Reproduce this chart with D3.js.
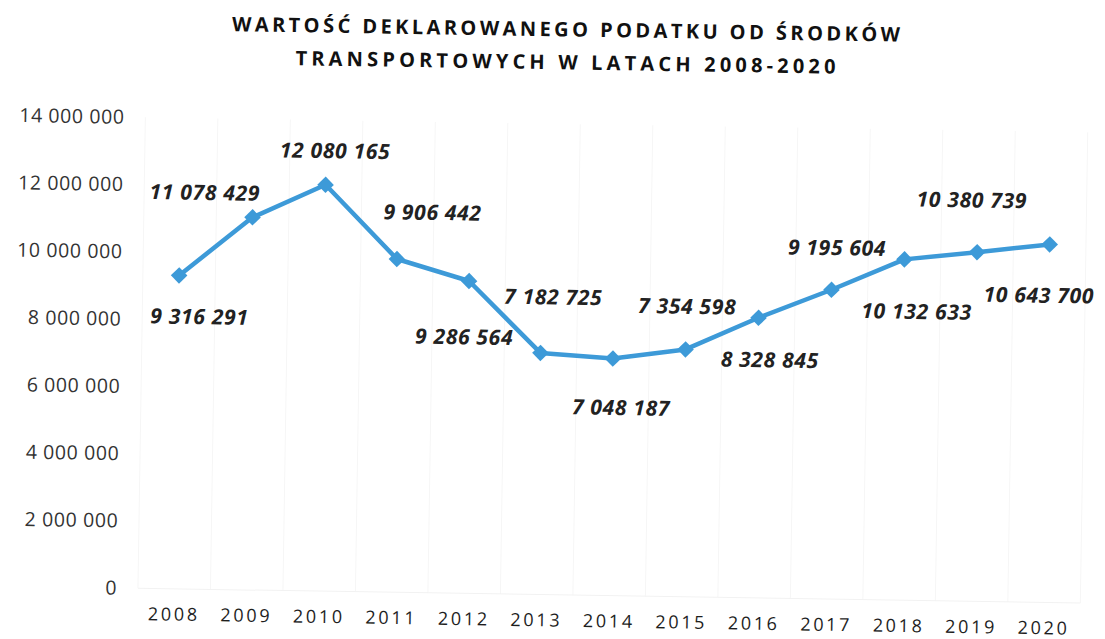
<!DOCTYPE html>
<html><head><meta charset="utf-8">
<script src="https://cdn.jsdelivr.net/npm/d3@7"></script>
<style>body{margin:0;background:#fff}</style>
</head><body>
<svg id="c" width="1105" height="639"></svg>
<script>
const titleLines = ["WARTOŚĆ DEKLAROWANEGO PODATKU OD ŚRODKÓW", "TRANSPORTOWYCH W LATACH 2008-2020"];
const years = ["2008","2009","2010","2011","2012","2013","2014","2015","2016","2017","2018","2019","2020"];
const values = [9316291, 11078429, 12080165, 9906442, 9286564, 7182725, 7048187, 7354598, 8328845, 9195604, 10132633, 10380739, 10643700];
const yTicks = [0, 2000000, 4000000, 6000000, 8000000, 10000000, 12000000, 14000000];
// manual label placement (dx, dy) relative to each point
const labelOffsets = [[21,41],[-48,-24],[9,-34],[35,-47],[-4,56],[12,-56],[9,49],[1,-43],[12,42],[5,-42],[13,52],[-6,-52],[-10,51]];

const loc = d3.formatLocale({decimal: ",", thousands: " ", grouping: [3], currency: ["", ""]});
const fmt = loc.format(",d");

const svg = d3.select("#c");
svg.append("rect").attr("width", 1105).attr("height", 639).attr("fill", "#fff");
const g = svg.append("g").attr("transform", "rotate(0.9,600,350)");

const x = d3.scaleBand().domain(years).range([141.75, 1084.25]).paddingInner(0).paddingOuter(0);
const cx = d => x(d) + x.bandwidth() / 2;
const y = d3.scaleLinear().domain([0, 14000000]).range([595.5, 124.5]);

// faint vertical separators
g.append("g").selectAll("line").data(years.concat(["_end"])).join("line")
  .attr("x1", (d, i) => 141.75 + i * x.bandwidth())
  .attr("x2", (d, i) => 141.75 + i * x.bandwidth())
  .attr("y1", 124.5).attr("y2", 595.5)
  .attr("stroke", "#f6f6f6").attr("stroke-width", 1);

// baseline
g.append("line").attr("x1", 141.75).attr("x2", 1084.25).attr("y1", y(0)).attr("y2", y(0))
  .attr("stroke", "#f2f2f2").attr("stroke-width", 1);

// title
const titleWidths = [668, 540];
g.append("g").selectAll("text").data(titleLines).join("text")
  .attr("x", 561).attr("y", (d, i) => 37 + i * 33)
  .attr("text-anchor", "middle")
  .attr("font-family", "Open Sans").attr("font-weight", 700).attr("font-size", 20)
  .attr("textLength", (d, i) => titleWidths[i]).attr("lengthAdjust", "spacing")
  .attr("fill", "#111")
  .text(d => d);

// y axis
const yAxis = g.append("g").attr("transform", "translate(129,0)")
  .call(d3.axisLeft(y).tickValues(yTicks).tickSize(0).tickPadding(8).tickFormat(fmt));
yAxis.select(".domain").remove();
yAxis.selectAll("text").attr("font-family", "Open Sans").attr("font-size", 19.5)
  .attr("letter-spacing", 0.6).attr("fill", "#333");

// x axis
const xAxis = g.append("g").attr("transform", `translate(0,${y(0)})`)
  .call(d3.axisBottom(x).tickSize(0).tickPadding(19));
xAxis.select(".domain").remove();
xAxis.selectAll("text").attr("font-family", "Open Sans").attr("font-size", 18)
  .attr("letter-spacing", 2.7).attr("fill", "#1e1e1e");

// line
const line = d3.line().x((d, i) => cx(years[i])).y(d => y(d));
g.append("path").datum(values).attr("d", line)
  .attr("fill", "none").attr("stroke", "#3d9ad8").attr("stroke-width", 4.5)
  .attr("stroke-linejoin", "round");

// markers
g.append("g").selectAll("path").data(values).join("path")
  .attr("transform", (d, i) => `translate(${cx(years[i])},${y(d)})`)
  .attr("d", d3.symbol(d3.symbolDiamond2, 175))
  .attr("fill", "#3d9ad8");

// data labels
g.append("g").selectAll("text").data(values).join("text")
  .attr("x", (d, i) => cx(years[i]) + labelOffsets[i][0])
  .attr("y", (d, i) => y(d) + labelOffsets[i][1])
  .attr("dy", "0.35em")
  .attr("text-anchor", "middle")
  .attr("font-family", "Open Sans").attr("font-weight", 700).attr("font-style", "italic")
  .attr("font-size", 21).attr("letter-spacing", 0.7).attr("fill", "#222")
  .text(d => fmt(d));
</script>
</body></html>
